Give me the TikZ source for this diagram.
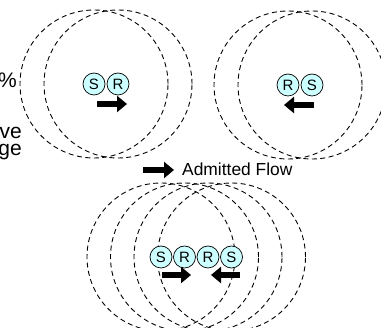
\documentclass[tikz,border=0pt]{standalone}
\usepackage{fontspec}
\setmainfont{Liberation Sans}
\usetikzlibrary{arrows.meta}
\definecolor{nodefill}{RGB}{204,255,255}
\tikzset{
  rangecircle/.style={draw=black, line width=0.9pt, dash pattern=on 5pt off 3.5pt},
  station/.style={circle, draw=black, line width=0.7pt, fill=nodefill, minimum size=22pt, inner sep=0pt, font=\fontsize{15}{17}\selectfont},
  blockarrow/.style={line width=6.8pt, -{Triangle[length=10pt,width=16pt]}},
  sidetext/.style={anchor=base east, inner sep=0pt, font=\fontsize{21}{23}\selectfont},
  legendtext/.style={anchor=base west, inner sep=0pt, font=\fontsize{17.4}{20}\selectfont}
}
\begin{document}
\begin{tikzpicture}[x=1pt,y=-1pt]
\useasboundingbox (0,0) rectangle (381,328);
\clip (0,0) rectangle (381,328);
% top-left group
\coordinate (c1) at (94,84);
\coordinate (c2) at (118,84);
\draw[rangecircle] (c1) circle[radius=74pt];
\draw[rangecircle] (c2) circle[radius=74pt];
\node[station] (s1) at (c1) {S};
\node[station] (r1) at (c2) {R};
\coordinate (a1s) at (97,104);
\coordinate (a1e) at (127,104);
\draw[blockarrow] (a1s) -- (a1e);
% top-right group
\coordinate (c3) at (288,85);
\coordinate (c4) at (312,85);
\draw[rangecircle] (c3) circle[radius=74pt];
\draw[rangecircle] (c4) circle[radius=74pt];
\node[station] (r2) at (c3) {R};
\node[station] (s2) at (c4) {S};
\coordinate (a2s) at (314,105);
\coordinate (a2e) at (284,105);
\draw[blockarrow] (a2s) -- (a2e);
% bottom group
\coordinate (c5) at (161,257);
\coordinate (c6) at (184.5,257);
\coordinate (c7) at (208,257);
\coordinate (c8) at (231.5,257);
\foreach \c in {c5,c6,c7,c8} {\draw[rangecircle] (\c) circle[radius=74pt];}
\node[station] (bs1) at (c5) {S};
\node[station] (br1) at (c6) {R};
\node[station] (br2) at (c7) {R};
\node[station] (bs2) at (c8) {S};
\coordinate (a3s) at (162,275);
\coordinate (a3e) at (191,275);
\coordinate (a4s) at (240,275);
\coordinate (a4e) at (211,275);
\draw[blockarrow] (a3s) -- (a3e);
\draw[blockarrow] (a4s) -- (a4e);
% legend
\coordinate (l1) at (143,170);
\coordinate (l2) at (174,170);
\draw[blockarrow] (l1) -- (l2);
\node[legendtext] (legend) at (182,176) {Admitted Flow};
% clipped side text
\node[sidetext] (t1) at (17,88) {\%};
\node[sidetext] (t2) at (22,139) {ve};
\node[sidetext] (t3) at (22,156) {ge};
\end{tikzpicture}
\end{document}
